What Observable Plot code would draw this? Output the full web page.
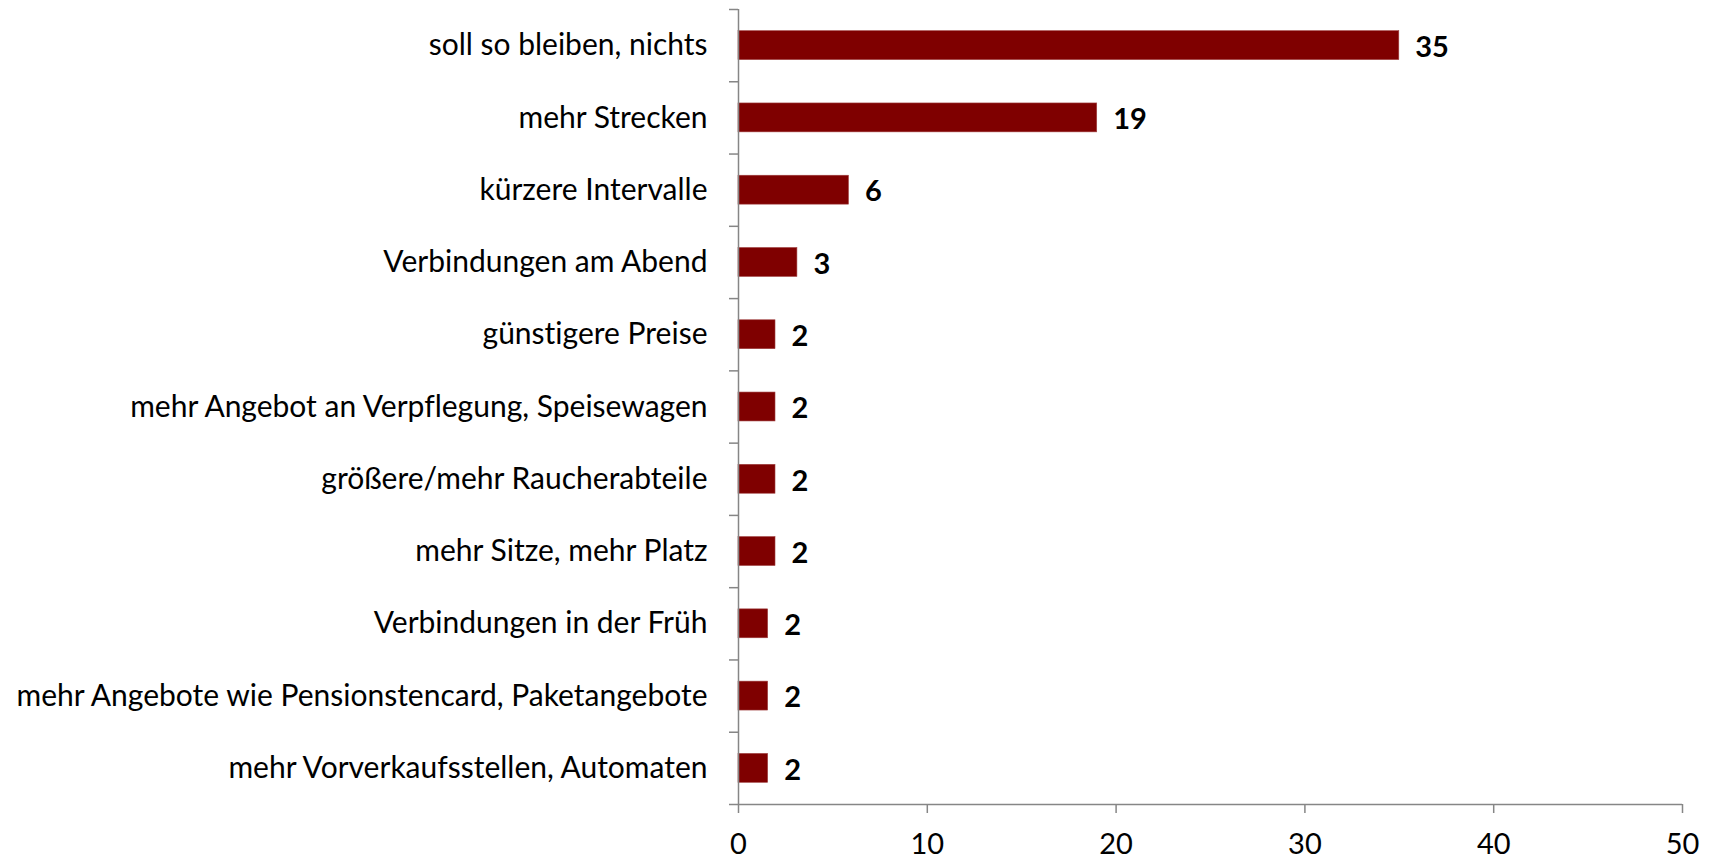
<!DOCTYPE html>
<html>
<head>
<meta charset="utf-8">
<script src="https://cdn.jsdelivr.net/npm/d3@7"></script>
<script src="https://cdn.jsdelivr.net/npm/@observablehq/plot@0.6"></script>
<style>
  html, body { margin: 0; padding: 0; background: #fff; }
  svg text { font-variant-ligatures: none; font-feature-settings: "liga" 0, "clig" 0; }
</style>
</head>
<body>
<div id="chart"></div>
<script>
const categories = [
  "soll so bleiben, nichts",
  "mehr Strecken",
  "kürzere Intervalle",
  "Verbindungen am Abend",
  "günstigere Preise",
  "mehr Angebot an Verpflegung, Speisewagen",
  "größere/mehr Raucherabteile",
  "mehr Sitze, mehr Platz",
  "Verbindungen in der Früh",
  "mehr Angebote wie Pensionstencard, Paketangebote",
  "mehr Vorverkaufsstellen, Automaten"
];
const values = [35, 19, 5.85, 3.12, 1.96, 1.96, 1.96, 1.96, 1.57, 1.57, 1.57];
const valueLabels = ["35", "19", "6", "3", "2", "2", "2", "2", "2", "2", "2"];
const xTicks = [0, 10, 20, 30, 40, 50];

const data = categories.map((c, i) => ({c, i, v: values[i], l: valueLabels[i]}));
const boundaries = d3.range(categories.length + 1);
const centers = d3.range(categories.length).map(i => i + 0.5);

const axisGray = "#868686";

const chart = Plot.plot({
  width: 1709,
  height: 860,
  marginLeft: 738,
  marginRight: 27,
  marginTop: 9,
  marginBottom: 56,
  style: {fontFamily: "Lato, 'Open Sans', sans-serif", fontSize: "30px", color: "#000", background: "#fff"},
  x: {domain: [0, 50]},
  y: {domain: [0, categories.length], reverse: true},
  marks: [
    Plot.rectX(data, {x1: 0, x2: "v", y1: d => d.i + 0.3, y2: d => d.i + 0.7, fill: "#7f0000", stroke: "#a04040", strokeWidth: 0.6}),
    Plot.text(data, {x: "v", y: d => d.i + 0.5, text: "l", dx: 16, dy: 2, textAnchor: "start", fontWeight: "bold", fontSize: 29, fill: "#000"}),
    Plot.axisY({ticks: boundaries, tickSize: 9, tickFormat: () => "", stroke: axisGray, strokeWidth: 1.5}),
    Plot.axisY({ticks: centers, tickSize: 0, tickPadding: 31, tickFormat: t => categories[Math.floor(t)], fontSize: 30, fill: "#000"}),
    Plot.ruleX([0], {stroke: axisGray, strokeWidth: 1.5}),
    Plot.axisX({ticks: xTicks, tickSize: 9, tickPadding: 20, stroke: axisGray, strokeWidth: 1.5, fontSize: 29, fill: "#000", label: null}),
    Plot.ruleY([categories.length], {stroke: axisGray, strokeWidth: 1.5})
  ]
});
document.getElementById("chart").append(chart);
</script>
</body>
</html>
